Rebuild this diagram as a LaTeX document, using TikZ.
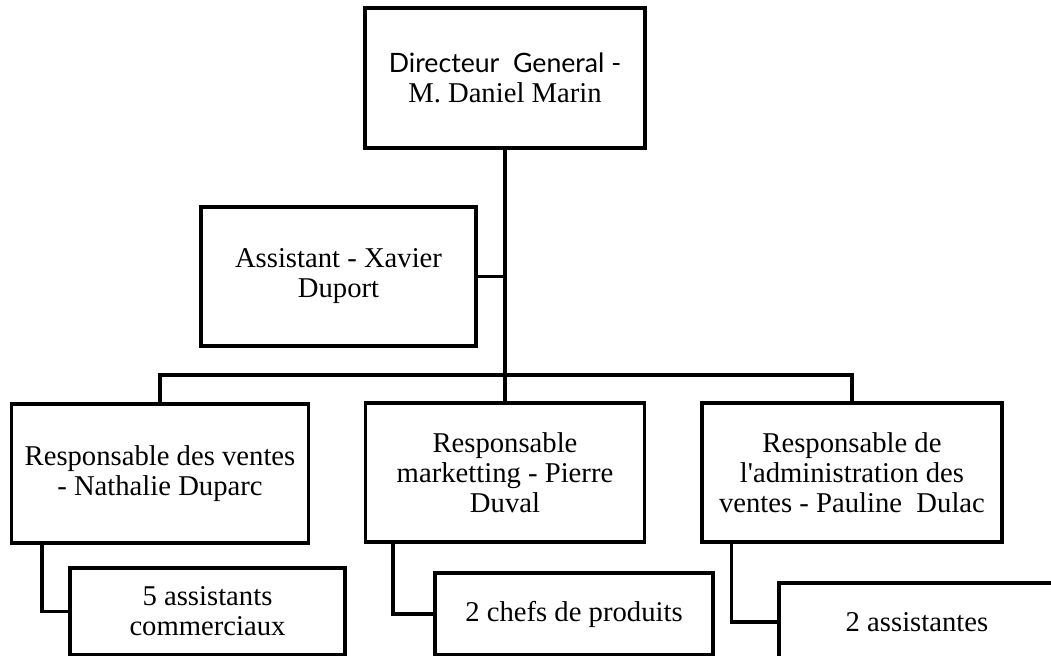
\documentclass[tikz,border=0pt]{standalone}
\usepackage{fontspec}
\setmainfont{Liberation Serif}
\newfontfamily\dgfont{Lato}
\usetikzlibrary{positioning, calc}

\begin{document}
\begin{tikzpicture}[x=0.75pt, y=-0.75pt,
    box/.style={draw, line width=2.6pt, align=center, inner sep=0pt,
        font=\fontsize{21.5}{22.5}\selectfont},
    link/.style={line width=2.6pt}]

    % Page frame
    \clip (0,0) rectangle (1051,656);
    \fill[white] (0,0) rectangle (1051,656);

    % Top of the chart
    \node[box, minimum width=210pt, minimum height=105pt] (dg) at (505,78)
        {{\dgfont\fontsize{20}{22.5}\selectfont Directeur\ \ General -}\\M. Daniel Marin};
    \node[box, minimum width=206.25pt, minimum height=104.25pt] (asst) at (338.5,276.5)
        {Assistant - Xavier\\Duport};

    % Responsables
    \node[box, minimum width=222.75pt, minimum height=104.25pt] (ventes) at (160,473.5)
        {Responsable des ventes\\- Nathalie Duparc};
    \node[box, minimum width=209.25pt, minimum height=104.25pt] (mkt) at (505,472.5)
        {Responsable\\marketting - Pierre\\Duval};
    \node[box, minimum width=225pt, minimum height=104.25pt] (adv) at (852,472.5)
        {Responsable de\\l\textquotesingle administration des\\ventes - Pauline\ \ Dulac};

    % Teams
    \node[box, minimum width=206.25pt, minimum height=65.25pt] (commerciaux) at (207.5,611.5)
        {5 assistants\\commerciaux};
    \node[box, minimum width=208.5pt, minimum height=61.5pt] (chefs) at (574,614)
        {2 chefs de produits};
    \node[box, minimum width=207pt, minimum height=58.5pt] (assistantes) at (917,622)
        {2 assistantes};

    % Links
    \coordinate (bar) at (505,375);
    \draw[link] (dg.south) -- (mkt.north);
    \draw[link] (asst.east) -- (asst.east -| dg.south);
    \draw[link] (ventes.north) |- (bar) -| (adv.north);

    \draw[link] ($(ventes.south west)+(32,0)$) |- (commerciaux.west);
    \draw[link] ($(mkt.south west)+(29,0)$) |- (chefs.west);
    \draw[link] ($(adv.south west)+(31,0)$) |- (assistantes.west);

\end{tikzpicture}
\end{document}
